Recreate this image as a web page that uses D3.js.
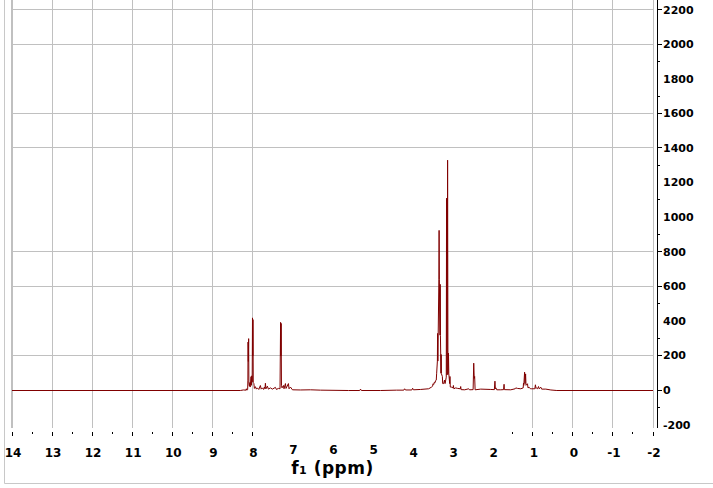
<!DOCTYPE html>
<html>
<head>
<meta charset="utf-8">
<script src="https://cdn.jsdelivr.net/npm/d3@7"></script>
<style>
  body { margin: 0; background: #fff; }
  svg { display: block; }
  text { font-family: "DejaVu Sans", sans-serif; font-weight: bold; fill: #000; }
</style>
</head>
<body>
<div class="chart"></div>
<script>
// spectrum points: [shift (ppm), intensity]
const spectrum = [
  [14, 0], [8.30, 0], [8.225, 3], [8.16, 2], [8.15, 10], [8.14, 2], [8.118, 5],
  [8.112, 60], [8.108, 280], [8.100, 168], [8.093, 300], [8.087, 40], [8.075, 25],
  [8.0625, 46], [8.055, 20], [8.0325, 80], [8.025, 30], [8.0125, 85], [8.005, 50],
  [7.997, 420], [7.990, 200], [7.985, 410], [7.978, 45], [7.9625, 40], [7.95, 12],
  [7.925, 22], [7.90, 8], [7.875, 15], [7.84, 6], [7.80, 29], [7.78, 8], [7.75, 15],
  [7.72, 6], [7.70, 20], [7.685, 10], [7.675, 42], [7.66, 10], [7.625, 25], [7.60, 8],
  [7.55, 15], [7.50, 8], [7.425, 18], [7.40, 6], [7.35, 12], [7.31, 10],
  [7.296, 394], [7.288, 200], [7.282, 388], [7.274, 30], [7.26, 15], [7.225, 29],
  [7.21, 10], [7.175, 40], [7.16, 12], [7.10, 40], [7.085, 10], [7.05, 20], [7.00, 4],
  [6.80, 3], [6.55, 4], [6.30, 2], [5.60, 0], [5.32, 0], [5.30, 8], [5.28, 0],
  [4.80, 0], [4.40, 2], [4.22, 2], [4.20, 10], [4.18, 3], [4.02, 3], [4.00, 13],
  [3.98, 4], [3.80, 6], [3.60, 10], [3.5325, 19], [3.50, 25], [3.4925, 39], [3.47, 35],
  [3.4575, 48], [3.44, 45], [3.425, 58], [3.41, 60], [3.40, 100], [3.382, 170],
  [3.377, 330], [3.370, 170], [3.345, 640], [3.339, 926], [3.333, 640], [3.316, 320],
  [3.312, 614], [3.306, 318], [3.292, 100], [3.288, 208], [3.283, 98], [3.2575, 81],
  [3.25, 40], [3.225, 40], [3.205, 60], [3.19, 40], [3.16, 77], [3.153, 1112],
  [3.145, 90], [3.135, 95], [3.127, 1332], [3.118, 93], [3.105, 216], [3.097, 98],
  [3.075, 40], [3.068, 81], [3.06, 20], [3.025, 19], [2.99, 15], [2.9825, 29],
  [2.97, 10], [2.925, 15], [2.875, 12], [2.81, 10], [2.80, 23], [2.79, 5], [2.70, 4],
  [2.60, 10], [2.58, 4], [2.49, 5], [2.475, 158], [2.462, 70], [2.452, 81], [2.44, 4],
  [2.30, 8], [2.05, 6], [1.96, 5], [1.945, 54], [1.935, 10], [1.92, 15], [1.90, 4],
  [1.80, 4], [1.73, 5], [1.7175, 36], [1.71, 5], [1.55, 4], [1.44, 10], [1.425, 15],
  [1.38, 12], [1.30, 10], [1.24, 15], [1.2325, 42], [1.225, 30], [1.205, 106],
  [1.195, 40], [1.18, 96], [1.17, 30], [1.1325, 39], [1.12, 15], [1.0925, 19],
  [1.06, 10], [1.025, 10], [0.95, 10], [0.935, 33], [0.92, 12], [0.9075, 15],
  [0.88, 10], [0.8575, 23], [0.84, 10], [0.80, 19], [0.78, 8], [0.675, 8],
  [0.55, 3], [0.40, 0], [-2, 0]
]

// x axis (ppm)
const xLabels = d3.range(14, -3, -1)
const xGrid = [14, 13, 12, 11, 10, 9, 8, 1, 0, -1, -2]
const xMinor = [13.5, 12.5, 11.5, 10.5, 9.5, 8.5, 1.5, 0.5, -0.5, -1.5]

// y axis (intensity)
const yLabels = d3.range(2200, -201, -200)
const yGrid = [2200, 2000, 1600, 1400, 800, 600, 200]
const yMajor = [2200, 2000, 1600, 1400, 800, 600, 200, 0]
const yMinor = [1900, 1700, 1300, 1100, 900, 500, 300, -100]

const width = 713
const height = 488

const svg = d3.select('.chart').append('svg')
  .attr('width', width)
  .attr('height', height)

const x = d3.scaleLinear().domain([14, -2]).range([12, 653])
const y = d3.scaleLinear().domain([0, 2200]).range([390, 9.6])

const plotBottom = 428
const axisX = 657

// outer frame
svg.append('path')
  .attr('d', `M4.5,0 V483.5 H${width}`)
  .attr('fill', 'none')
  .attr('stroke', '#c8c8c8')
  .attr('stroke-width', 1)

// grid
const grid = svg.append('g')
  .attr('stroke', '#c0c0c0')
  .attr('shape-rendering', 'crispEdges')

grid.selectAll('line.v').data(xGrid).join('line')
  .attr('class', 'v')
  .attr('x1', d => x(d)).attr('x2', d => x(d))
  .attr('y1', 0).attr('y2', plotBottom)
  .attr('stroke-width', d => d === 14 ? 2 : 1)

grid.selectAll('line.h').data(yGrid).join('line')
  .attr('class', 'h')
  .attr('x1', x(14)).attr('x2', x(-2) + 1)
  .attr('y1', d => y(d)).attr('y2', d => y(d))

// spectrum (shifted half a pixel so the 1px baseline sits on one row)
const line = d3.line()
  .x(d => x(d[0]))
  .y(d => y(d[1]) + 0.5)

svg.append('path')
  .datum(spectrum)
  .attr('d', line)
  .attr('fill', 'none')
  .attr('stroke', '#800000')
  .attr('stroke-width', 1)

// right intensity axis
const yAxis = svg.append('g').attr('shape-rendering', 'crispEdges')
yAxis.append('line')
  .attr('x1', axisX).attr('x2', axisX)
  .attr('y1', 0).attr('y2', plotBottom)
  .attr('stroke', '#000')

yAxis.selectAll('line.maj').data(yMajor).join('line')
  .attr('class', 'maj')
  .attr('x1', axisX).attr('x2', axisX + 5)
  .attr('y1', d => y(d)).attr('y2', d => y(d))
  .attr('stroke', '#000')

yAxis.selectAll('line.min').data(yMinor).join('line')
  .attr('class', 'min')
  .attr('x1', axisX).attr('x2', axisX + 3)
  .attr('y1', d => y(d)).attr('y2', d => y(d))
  .attr('stroke', '#000')

yAxis.selectAll('text').data(yLabels).join('text')
  .attr('x', axisX + 6)
  .attr('y', d => y(d))
  .attr('dy', '0.36em')
  .style('font-size', '11px')
  .text(d => String(d))

// bottom ppm axis
const xAxis = svg.append('g').attr('shape-rendering', 'crispEdges')
xAxis.selectAll('line.maj').data(xGrid).join('line')
  .attr('class', 'maj')
  .attr('x1', d => x(d)).attr('x2', d => x(d))
  .attr('y1', 432).attr('y2', 436)
  .attr('stroke', '#000')

xAxis.selectAll('line.min').data(xMinor).join('line')
  .attr('class', 'min')
  .attr('x1', d => x(d)).attr('x2', d => x(d))
  .attr('y1', 432).attr('y2', 434)
  .attr('stroke', '#000')

// the labels sitting over the title are lifted a little, as in the original
svg.append('g').selectAll('text').data(xLabels).join('text')
  .attr('x', d => x(d) + 1)
  .attr('y', d => (d <= 7 && d >= 5) ? 454 : 457)
  .attr('text-anchor', 'middle')
  .style('font-size', '12px')
  .text(d => String(d))

// axis title
const title = svg.append('text')
  .attr('x', (x(14) + x(-2)) / 2)
  .attr('y', 474)
  .attr('text-anchor', 'middle')
  .style('font-size', '17px')
  .style('letter-spacing', '0.5px')
title.append('tspan').text('f')
title.append('tspan').style('font-size', '11px').text('1')
title.append('tspan').text(' (ppm)')
</script>
</body>
</html>
